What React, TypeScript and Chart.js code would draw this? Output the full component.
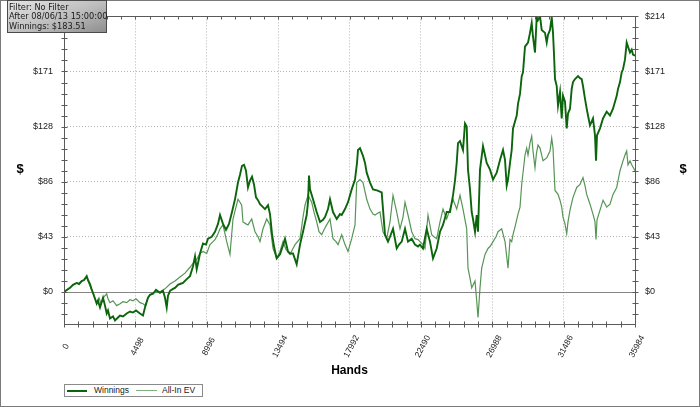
import React, { useEffect, useRef } from 'react';
import { Chart, registerables } from 'chart.js';

Chart.register(...registerables);

// ---- Data (hands played, dollars) ----
const winHands = [
  0, 378, 567, 800, 945, 1115, 1260, 1431, 1512, 1639,
  1733, 1846, 1954, 2061, 2143, 2269, 2458, 2584, 2691, 2773,
  2899, 3088, 3214, 3403, 3529, 3718, 3951, 4159, 4348, 4537,
  4790, 4979, 5105, 5294, 5420, 5609, 5798, 6050, 6239, 6365,
  6472, 6554, 6680, 6869, 6995, 7184, 7310, 7499, 7733, 7941,
  8130, 8256, 8363, 8445, 8571, 8760, 8949, 9075, 9308, 9516,
  9705, 9831, 10020, 10209, 10398, 10587, 10776, 10965, 11091, 11217,
  11343, 11469, 11595, 11722, 11848, 11974, 12100, 12226, 12352, 12541,
  12667, 12856, 12982, 13108, 13234, 13404, 13612, 13801, 13927, 14116,
  14242, 14432, 14558, 14663, 14747, 14873, 15062, 15293, 15377, 15440,
  15503, 15692, 15925, 16133, 16322, 16448, 16637, 16763, 16952, 17185,
  17393, 17501, 17708, 17897, 18131, 18339, 18465, 18528, 18654, 18843,
  18969, 19076, 19284, 19473, 19725, 20021, 20103, 20229, 20418, 20545,
  20734, 20967, 21112, 21282, 21490, 21679, 21912, 22120, 22309, 22435,
  22624, 22857, 23065, 23254, 23487, 23695, 23884, 24117, 24326, 24515,
  24641, 24748, 24830, 24956, 25145, 25271, 25378, 25460, 25586, 25693,
  25775, 25901, 26008, 26090, 26216, 26405, 26638, 26847, 27036, 27269,
  27477, 27666, 27792, 27899, 27981, 28107, 28214, 28296, 28529, 28611,
  28737, 28844, 28926, 29052, 29241, 29367, 29474, 29556, 29682, 29790,
  29871, 29998, 30105, 30313, 30420, 30502, 30628, 30735, 30817, 30880,
  30943, 31050, 31132, 31258, 31365, 31447, 31573, 31680, 31762, 31888,
  31995, 32077, 32203, 32392, 32518, 32625, 32707, 32833, 32940, 33022,
  33148, 33337, 33463, 33527, 33590, 33779, 33968, 34201, 34409, 34598,
  34831, 34913, 35039, 35146, 35228, 35354, 35460, 35543, 35669, 35776,
  35858, 35984,
];
const winValues = [
  0, 3.1, 5.4, 6.9, 6.1, 8.4, 9.2, 12.2, 9.2, 6.1,
  2.3, -1.5, -5.4, -9.2, -6.9, -12.2, -4.6, -10.7, -16.8, -14.5,
  -20.7, -19.1, -22.2, -19.9, -18.4, -19.1, -16.8, -15.3, -16.1, -14.5,
  -16.8, -18.4, -12.2, -4.6, -2.3, -1.5, 1.5, -0.8, 0.8, -4.6,
  -12.2, -3.1, 0.8, 2.3, 3.1, 5.4, 6.1, 6.9, 9.9, 12.2,
  19.9, 27.5, 17.6, 22.2, 29.8, 37.5, 36.7, 41.3, 42.8, 46.7,
  52.8, 59.7, 52.8, 48.2, 52.8, 62.0, 71.9, 84.9, 91.0, 97.9,
  98.7, 94.1, 81.1, 86.5, 89.5, 83.4, 73.4, 71.2, 68.1, 65.8,
  64.3, 67.3, 60.4, 45.1, 35.2, 26.0, 29.1, 36.0, 41.3, 31.4,
  29.8, 29.8, 25.2, 21.4, 27.5, 36.7, 46.7, 59.7, 69.6, 90.3,
  79.6, 71.9, 62.0, 54.3, 55.9, 58.1, 64.3, 71.9, 62.0, 56.6,
  60.4, 59.7, 64.3, 69.6, 79.6, 87.2, 100.2, 110.2, 111.7, 105.6,
  100.2, 92.6, 84.9, 79.6, 78.8, 77.3, 64.3, 44.4, 39.0, 42.8,
  49.0, 33.7, 36.7, 39.0, 49.0, 39.0, 41.3, 36.7, 35.2, 36.7,
  33.7, 49.0, 39.0, 26.0, 33.7, 46.7, 52.0, 62.0, 62.0, 75.0,
  86.5, 100.2, 115.5, 117.1, 110.2, 130.8, 128.5, 94.9, 79.6, 62.0,
  56.6, 46.7, 59.7, 46.7, 94.9, 113.2, 100.2, 94.9, 87.2, 92.6,
  102.5, 110.2, 102.5, 82.6, 87.2, 100.2, 110.2, 127.0, 137.0, 146.1,
  153.8, 167.6, 170.6, 190.5, 193.6, 201.2, 208.9, 198.2, 185.9, 213.5,
  211.2, 214.0, 203.5, 201.2, 193.6, 199.7, 203.5, 213.5, 201.2, 184.4,
  165.3, 159.9, 144.6, 155.3, 134.7, 152.3, 147.7, 127.0, 138.5, 142.3,
  157.6, 163.0, 165.3, 167.6, 166.0, 165.3, 159.9, 150.0, 142.3, 137.0,
  129.3, 134.7, 121.6, 101.8, 121.6, 127.0, 134.7, 140.0, 137.0, 142.3,
  152.3, 157.6, 163.0, 170.6, 172.9, 180.6, 193.6, 190.5, 185.9, 188.2,
  184.4, 183.51,
];
const evHands = [
  0, 378, 567, 800, 945, 1115, 1260, 1431, 1512, 1639,
  1765, 1891, 2061, 2206, 2332, 2521, 2691, 2773, 2899, 3088,
  3321, 3529, 3718, 3951, 4159, 4348, 4537, 4790, 4979, 5105,
  5294, 5420, 5609, 5861, 6050, 6365, 6680, 6995, 7310, 7625,
  7941, 8130, 8363, 8571, 8760, 8993, 9201, 9390, 9516, 9705,
  9831, 10020, 10254, 10335, 10461, 10650, 10839, 10965, 11091, 11198,
  11280, 11469, 11595, 11829, 12037, 12226, 12352, 12541, 12774, 12982,
  13171, 13404, 13612, 13801, 13990, 14242, 14432, 14558, 14873, 15062,
  15188, 15377, 15610, 15755, 15925, 16070, 16240, 16385, 16555, 16763,
  16952, 17141, 17267, 17501, 17708, 17897, 18131, 18339, 18446, 18654,
  18843, 19076, 19284, 19473, 19599, 19788, 19914, 20103, 20334, 20545,
  20734, 20967, 21175, 21364, 21490, 21679, 21912, 22120, 22309, 22435,
  22624, 22750, 22939, 23172, 23317, 23487, 23695, 23884, 24117, 24326,
  24515, 24748, 24956, 25145, 25378, 25460, 25586, 25693, 25901, 26008,
  26090, 26216, 26323, 26531, 26720, 26847, 27036, 27225, 27351, 27584,
  27792, 27981, 28107, 28214, 28296, 28422, 28611, 28737, 28844, 29052,
  29159, 29241, 29367, 29474, 29556, 29682, 29777, 29871, 29998, 30187,
  30420, 30628, 30735, 30817, 30943, 31132, 31258, 31365, 31447, 31573,
  31680, 31762, 31888, 32077, 32310, 32518, 32707, 32833, 32940, 33148,
  33337, 33463, 33527, 33590, 33779, 33968, 34201, 34409, 34598, 34831,
  35039, 35228, 35354, 35460, 35543, 35669, 35776, 35984,
];
const evValues = [
  0, 3.1, 5.4, 6.9, 6.1, 8.4, 9.2, 11.5, 8.4, 4.6,
  0.8, -3.1, -8.4, -4.6, -9.2, -3.8, -1.5, -5.4, -8.4, -6.9,
  -10.7, -9.2, -7.7, -8.4, -6.1, -6.9, -5.4, -8.4, -9.2, -10.7,
  -4.6, -2.3, -0.8, 0, 0, 2.3, 6.1, 8.4, 11.5, 14.5,
  19.1, 22.2, 25.2, 29.8, 31.4, 29.8, 36.7, 39.0, 40.6, 45.1,
  49.0, 52.0, 39.0, 35.2, 29.1, 56.6, 65.8, 71.9, 69.6, 67.3,
  54.3, 52.8, 52.0, 56.6, 46.7, 42.8, 39.0, 49.0, 56.6, 52.0,
  33.7, 26.0, 31.4, 39.0, 32.9, 29.1, 33.7, 36.7, 41.3, 58.1,
  67.3, 75.0, 69.6, 62.0, 54.3, 46.7, 44.4, 48.2, 52.0, 56.6,
  41.3, 39.0, 36.7, 44.4, 36.7, 31.4, 41.3, 52.0, 84.9, 87.2,
  84.9, 71.9, 64.3, 60.4, 59.7, 61.2, 62.0, 46.7, 41.3, 54.3,
  75.0, 62.0, 49.0, 58.1, 69.6, 59.7, 46.7, 41.3, 40.6, 39.0,
  36.7, 33.7, 59.7, 44.4, 42.8, 41.3, 54.3, 64.3, 56.6, 64.3,
  71.9, 64.3, 75.0, 64.3, 49.0, 18.4, 10.7, 3.1, 8.4, -6.9,
  -19.9, 3.1, 18.4, 29.1, 33.7, 35.2, 39.0, 42.8, 46.7, 49.0,
  39.0, 18.4, 40.6, 39.0, 44.4, 50.5, 60.4, 65.8, 83.4, 106.3,
  111.7, 106.3, 115.5, 120.9, 109.4, 96.4, 107.9, 114.0, 111.7, 101.8,
  104.1, 109.4, 119.4, 111.7, 78.8, 75.7, 71.2, 65.8, 58.1, 52.8,
  45.1, 54.3, 63.5, 73.4, 81.1, 83.4, 88.8, 82.6, 75.7, 68.1,
  60.4, 54.3, 40.6, 55.9, 63.5, 71.2, 65.8, 68.1, 75.7, 81.1,
  94.1, 101.8, 106.3, 109.4, 98.7, 101.8, 98.7, 94.1,
];

// ---- Axes ----
const X_MAX = 35984;
const X_MINOR = 899.6;
const xTickLabels = ['0', '4498', '8996', '13494', '17992', '22490', '26988', '31486', '35984'];
const Y_MIN = -24.6;
const Y_MAX = 214;
const Y_MINOR = 8.56;
const yTickLabels = ['$0', '$43', '$86', '$128', '$171', '$214'];

const xTickValues = Array.from({ length: 41 }, (_, i) => i * X_MINOR);
const yTickValues = Array.from({ length: 28 }, (_, k) => (k - 2) * Y_MINOR);

const GRID = '#b4b4b4';
const AXIS = '#5a5a5a';
const TICK_FONT = 'Liberation Sans';

const yLabel = (k: number) => ((k - 2) % 5 === 0 ? yTickLabels[(k - 2) / 5] : '');

const decorPlugin = {
  id: 'decor',
  beforeDatasetsDraw(chart: any) {
    const { ctx, chartArea: a, scales } = chart;
    const y0 = Math.round(scales.y.getPixelForValue(0)) + 0.5;
    ctx.save();
    ctx.strokeStyle = '#858585';
    ctx.lineWidth = 1;
    ctx.beginPath();
    ctx.moveTo(a.left, y0);
    ctx.lineTo(a.right, y0);
    ctx.stroke();
    ctx.restore();
  },
  afterDraw(chart: any) {
    const { ctx, chartArea: a, scales } = chart;
    const xs = scales.x;
    const ys = scales.y;
    ctx.save();
    const L = Math.round(a.left) + 0.5;
    const R = Math.round(a.right) + 0.5;
    const T = Math.round(a.top) + 0.5;
    const B = Math.round(a.bottom) + 0.5;
    ctx.strokeStyle = AXIS;
    ctx.lineWidth = 1;
    ctx.strokeRect(L, T, R - L, B - T);
    ctx.beginPath();
    for (const v of xTickValues) {
      const px = Math.round(xs.getPixelForValue(v)) + 0.5;
      ctx.moveTo(px, B - 3);
      ctx.lineTo(px, B + 3);
      ctx.moveTo(px, T);
      ctx.lineTo(px, T + 3);
    }
    for (const v of yTickValues) {
      const py = Math.round(ys.getPixelForValue(v)) + 0.5;
      ctx.moveTo(L - 3, py);
      ctx.lineTo(L + 3, py);
      ctx.moveTo(R - 3, py);
      ctx.lineTo(R + 3, py);
    }
    ctx.stroke();
    // x tick labels (rotated, centred under the tick)
    ctx.fillStyle = '#1a1a1a';
    ctx.font = `8.5px "${TICK_FONT}"`;
    ctx.textAlign = 'center';
    ctx.textBaseline = 'middle';
    xTickLabels.forEach((lab, k) => {
      const px = xs.getPixelForValue(k * 5 * X_MINOR);
      ctx.save();
      ctx.translate(px + 2, B + 22);
      ctx.rotate(-Math.PI * 62 / 180);
      ctx.fillText(lab, 0, 0);
      ctx.restore();
    });
    // axis titles
    ctx.fillStyle = '#000';
    ctx.font = `bold 12px "${TICK_FONT}"`;
    ctx.fillText('Hands', (a.left + a.right) / 2, 371);
    const midY = (a.top + a.bottom) / 2 - 1;
    ctx.font = `bold 13px "${TICK_FONT}"`;
    ctx.fillText('$', 20, midY);
    ctx.fillText('$', 683, midY);
    // outer border
    ctx.strokeStyle = '#7a7a7a';
    ctx.strokeRect(0.5, 0.5, 699, 406);
    ctx.restore();
  },
};

export default function App() {
  const ref = useRef<HTMLCanvasElement | null>(null);

  useEffect(() => {
    if (!ref.current) return;
    const tickFont = { family: TICK_FONT, size: 9 };
    const chart = new Chart(ref.current, {
      type: 'line',
      data: {
        datasets: [
          {
            label: 'Winnings',
            data: winHands.map((x, i) => ({ x, y: winValues[i] })),
            borderColor: '#0c650c',
            borderWidth: 1.9,
            pointRadius: 0,
            tension: 0,
          },
          {
            label: 'All-In EV',
            data: evHands.map((x, i) => ({ x, y: evValues[i] })),
            borderColor: '#569556',
            borderWidth: 1.2,
            pointRadius: 0,
            tension: 0,
          },
        ],
      },
      options: {
        responsive: false,
        animation: false,
        events: [],
        layout: { padding: { top: 11, left: 0, right: 0, bottom: 0 } },
        plugins: { legend: { display: false }, tooltip: { enabled: false } },
        scales: {
          x: {
            type: 'linear',
            position: 'bottom',
            min: 0,
            max: X_MAX,
            afterBuildTicks: (s: any) => {
              s.ticks = xTickValues.map((v) => ({ value: v }));
            },
            afterFit: (s: any) => {
              s.height = 83.5;
            },
            ticks: { display: false, autoSkip: false },
            grid: {
              drawTicks: false,
              lineWidth: 1,
              color: (c: any) => (c.index % 5 === 0 && c.index !== 0 && c.index !== 40 ? GRID : 'rgba(0,0,0,0)'),
            },
            border: { display: false, dash: [1, 2] },
          },
          y: {
            type: 'linear',
            position: 'left',
            min: Y_MIN,
            max: Y_MAX,
            afterBuildTicks: (s: any) => {
              s.ticks = yTickValues.map((v) => ({ value: v }));
            },
            afterFit: (s: any) => {
              s.width = 64;
            },
            ticks: {
              autoSkip: false,
              padding: 11,
              color: '#1a1a1a',
              font: tickFont,
              callback: (_v: any, i: number) => yLabel(i),
            },
            grid: {
              drawTicks: false,
              lineWidth: 1,
              color: (c: any) => {
                const k = c.index;
                return (k - 2) % 5 === 0 && k !== 2 && k !== 27 ? GRID : 'rgba(0,0,0,0)';
              },
            },
            border: { display: false, dash: [1, 2] },
          },
          y2: {
            type: 'linear',
            position: 'right',
            min: Y_MIN,
            max: Y_MAX,
            afterBuildTicks: (s: any) => {
              s.ticks = yTickValues.map((v) => ({ value: v }));
            },
            afterFit: (s: any) => {
              s.width = 65;
            },
            ticks: {
              autoSkip: false,
              padding: 10,
              color: '#1a1a1a',
              font: tickFont,
              callback: (_v: any, i: number) => yLabel(i),
            },
            grid: { drawTicks: false, drawOnChartArea: false },
            border: { display: false },
          },
        },
      },
      plugins: [decorPlugin],
    } as any);
    return () => chart.destroy();
  }, []);

  const legendText: React.CSSProperties = {
    position: 'absolute',
    top: 0,
    fontFamily: TICK_FONT,
    fontSize: '8.5px',
    lineHeight: '11px',
    color: '#1a1a1a',
    whiteSpace: 'nowrap',
  };

  return (
    <div style={{ position: 'fixed', left: 0, top: 0, width: 700, height: 407, background: '#fff', overflow: 'hidden' }}>
      <canvas ref={ref} width={700} height={407} style={{ position: 'absolute', left: 0, top: 0, width: 700, height: 407 }} />
      <div
        style={{
          position: 'absolute',
          left: 7,
          top: 0,
          width: 100,
          height: 33,
          border: '1px solid #4a4a4a',
          background: 'linear-gradient(160deg, #e4e4e4 0%, #bdbdbd 55%, #8e8e8e 100%)',
          fontFamily: '"DejaVu Sans"',
          fontSize: '8.2px',
          lineHeight: '9.4px',
          color: '#1a1a1a',
          paddingLeft: 1,
          paddingTop: 2,
          boxSizing: 'border-box',
          whiteSpace: 'nowrap',
        }}
      >
        <div>Filter: No Filter</div>
        <div>After 08/06/13 15:00:00</div>
        <div>Winnings: $183.51</div>
      </div>
      <div
        style={{
          position: 'absolute',
          left: 64,
          top: 384,
          width: 139,
          height: 13,
          border: '1px solid #8a8a8a',
          boxSizing: 'border-box',
          background: '#fff',
        }}
      >
        <div style={{ position: 'absolute', left: 2, top: 5, width: 20, height: 0, borderTop: '2px solid #0c650c' }} />
        <div style={{ ...legendText, left: 29 }}>Winnings</div>
        <div style={{ position: 'absolute', left: 71, top: 5, width: 21, height: 0, borderTop: '1px solid #7fb07f' }} />
        <div style={{ ...legendText, left: 97 }}>All-In EV</div>
      </div>
    </div>
  );
}
